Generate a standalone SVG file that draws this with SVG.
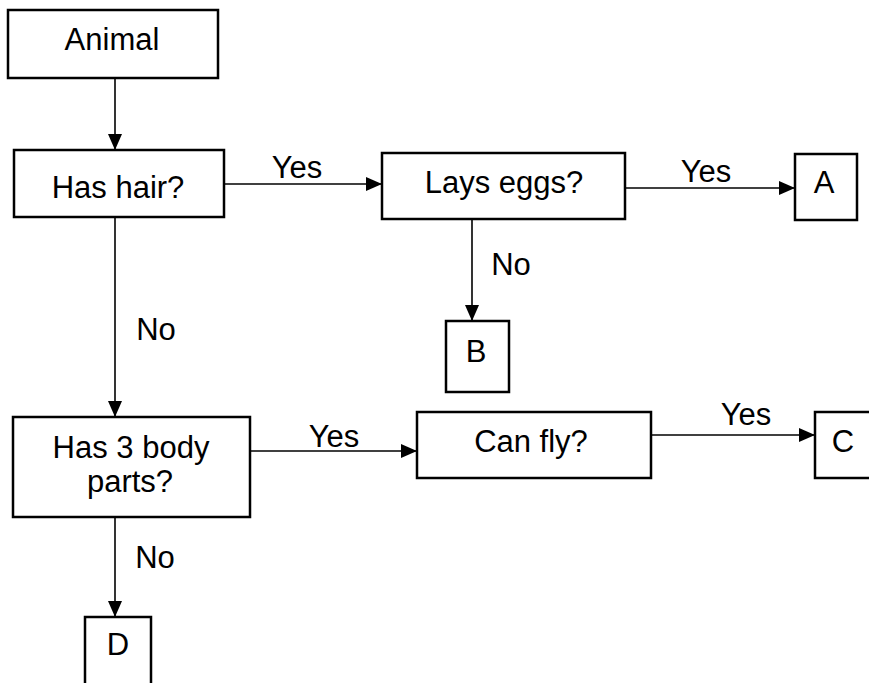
<svg xmlns="http://www.w3.org/2000/svg" width="869" height="683" viewBox="0 0 869 683">
<style>
rect.box{fill:#fff;stroke:#000;stroke-width:2.5}
text{font-family:"Liberation Sans",Arial,sans-serif;font-size:31px;fill:#000}
text.c{text-anchor:middle}
.conn line{stroke:#000;stroke-width:1.6;marker-end:url(#ah)}
</style>
<defs>
<marker id="ah" markerUnits="userSpaceOnUse" markerWidth="16" markerHeight="14" refX="16" refY="7" orient="auto">
<path d="M0,0 L16,7 L0,14 Z" fill="#000"/>
</marker>
</defs>
<rect width="869" height="683" fill="#fff"/>
<g class="conn" id="connectors">
<line x1="115" y1="78" x2="115" y2="150"/>
<line x1="224" y1="184" x2="382" y2="184"/>
<line x1="625" y1="188" x2="795" y2="188"/>
<line x1="472" y1="219" x2="472" y2="321"/>
<line x1="115" y1="217" x2="115" y2="417"/>
<line x1="250" y1="451" x2="417" y2="451"/>
<line x1="651" y1="435" x2="815" y2="435"/>
<line x1="115" y1="517" x2="115" y2="617"/>
<text x="297" y="178" class="c">Yes</text>
<text x="706" y="182" class="c">Yes</text>
<text x="511" y="275" class="c">No</text>
<text x="156" y="340" class="c">No</text>
<text x="334" y="447" class="c">Yes</text>
<text x="746" y="425" class="c">Yes</text>
<text x="155" y="568" class="c">No</text>
</g>
<g id="animal"><rect class="box" x="8" y="10" width="210" height="68"/><text x="112" y="50" class="c">Animal</text></g>
<g id="has-hair"><rect class="box" x="14" y="150" width="210" height="67"/><text x="118" y="198" class="c">Has hair?</text></g>
<g id="lays-eggs"><rect class="box" x="382" y="153" width="243" height="66"/><text x="504" y="193" class="c">Lays eggs?</text></g>
<g id="A"><rect class="box" x="795" y="154" width="62" height="66"/><text x="824" y="193" class="c">A</text></g>
<g id="B"><rect class="box" x="446" y="321" width="63" height="71"/><text x="476" y="362" class="c">B</text></g>
<g id="has-3-body-parts"><rect class="box" x="13" y="417" width="237" height="100"/><text x="131" y="458" class="c">Has 3 body</text><text x="130" y="492" class="c">parts?</text></g>
<g id="can-fly"><rect class="box" x="417" y="412" width="234" height="66"/><text x="531" y="452" class="c">Can fly?</text></g>
<g id="C"><rect class="box" x="815" y="412" width="62" height="66"/><text x="843" y="452" class="c">C</text></g>
<g id="D"><rect class="box" x="85" y="617" width="66" height="72"/><text x="118" y="655" class="c">D</text></g>
</svg>
